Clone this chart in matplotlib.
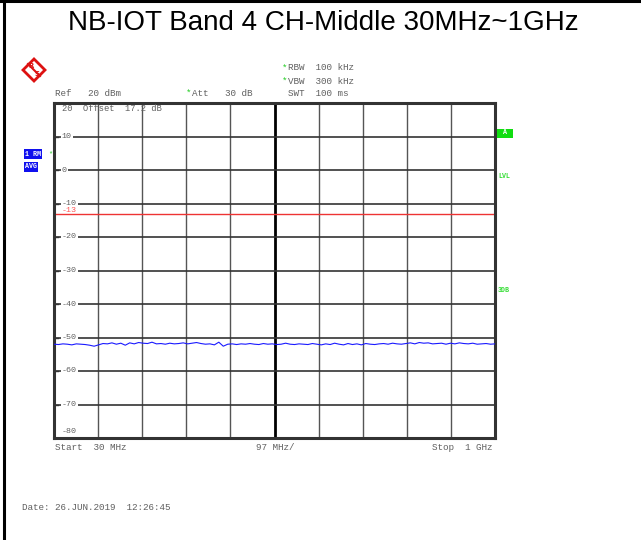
import numpy as np
import matplotlib
matplotlib.use("Agg")
import matplotlib.pyplot as plt
from matplotlib.patches import Polygon, Rectangle
from matplotlib.transforms import blended_transform_factory

# --- data ---
title = "NB-IOT Band 4 CH-Middle 30MHz~1GHz"
f_start, f_stop = 30, 1000          # MHz
ref_level, bottom_level = 20, -80   # dBm
y_labels = [10, 0, -10, -20, -30, -40, -50, -60, -70, -80]
limit_line = -13
level = [-52.0, -52.1, -51.9, -52.0, -52.2, -51.9, -52.0, -52.1, -52.3, -52.6,
         -52.2, -51.8, -51.9, -51.6, -52.0, -51.7, -52.3, -51.6, -51.9, -51.5,
         -51.7, -51.8, -51.4, -51.9, -51.8, -52.0, -51.7, -51.9, -51.8, -51.6,
         -51.9, -51.7, -51.5, -51.8, -52.0, -51.9, -52.2, -51.4, -52.6, -52.0,
         -51.9, -52.1, -51.9, -52.0, -51.8, -52.0, -52.1, -51.8, -52.0, -51.9,
         -52.1, -52.0, -51.7, -52.0, -52.1, -51.9, -52.0, -52.1, -51.8, -52.0,
         -52.2, -51.9, -52.1, -51.7, -52.0, -52.2, -51.8, -52.1, -51.9, -52.2,
         -51.8, -52.0, -52.1, -51.9, -51.8, -52.0, -51.7, -51.9, -52.0, -51.8,
         -51.6, -51.9, -51.5, -51.7, -51.6, -51.9, -51.8, -51.7, -52.0, -51.7,
         -51.9, -51.6, -51.8, -51.9, -51.7, -52.0, -51.9, -51.8, -52.0, -51.9]
freq = np.linspace(f_start, f_stop, len(level))

W, H = 641, 540
mono = "Liberation Mono"
gray = "#606060"


def px(x, y):
    return x / W, 1 - y / H


fig = plt.figure(figsize=(W / 100, H / 100), dpi=100)

# outer frame (top and left edges only)
fig.add_artist(plt.Line2D([0, 1], [0.999, 0.999], color="black", lw=2.2, transform=fig.transFigure))
fig.add_artist(plt.Line2D([4 / W, 4 / W], [0, 1], color="black", lw=2.2, transform=fig.transFigure))

fig.text(*px(323, 23), title, ha="center", va="center", fontsize=20,
         family="Liberation Sans", color="black")

# plot area
l, t, r, b = 54, 103, 495, 438
ax = fig.add_axes([l / W, 1 - b / H, (r - l) / W, (b - t) / H])
ax.set_xlim(f_start, f_stop)
ax.set_ylim(bottom_level, ref_level)

span = (f_stop - f_start) / 10
for i in range(1, 10):
    xv = f_start + i * span
    ax.axvline(xv, color="black" if i == 5 else "#555555", lw=2.0 if i == 5 else 1.0, zorder=1)
for v in y_labels[:-1]:
    ax.axhline(v, color="#333333", lw=1.2, zorder=1)

ax.set_xticks([])
ax.set_yticks([])
for s in ax.spines.values():
    s.set_linewidth(2.2)
    s.set_color("#333333")

tr = blended_transform_factory(ax.transAxes, ax.transData)
for v in y_labels:
    if v == bottom_level:
        ax.text(0.018, v + 2.0, str(v), transform=tr, ha="left", va="center",
                fontsize=6, family=mono, color=gray, zorder=3)
        continue
    ax.text(0.018, v, str(v), transform=tr, ha="left", va="center", fontsize=6,
            family=mono, color=gray, zorder=3,
            bbox=dict(boxstyle="square,pad=0.15", fc="white", ec="none"))
    ax.plot([0, 0.008], [v, v], transform=tr, color="#333333", lw=1.0, zorder=3)

ax.text(0.018, ref_level - 1.6, "20  Offset  17.2 dB", transform=tr, ha="left", va="center",
        fontsize=6.3, family=mono, color=gray, zorder=3)

ax.axhline(limit_line, color="#ee3333", lw=1.0, zorder=2)
ax.text(0.018, limit_line + 1.0, str(limit_line), transform=tr, ha="left", va="center",
        fontsize=6, family=mono, color="#ff5555", zorder=4)

ax.plot(freq, level, color="#1a1aff", lw=0.8, zorder=5)

# header texts
fs = 6.7
fig.text(*px(55, 93), "Ref   20 dBm", ha="left", va="center", fontsize=fs, family=mono, color=gray)
fig.text(*px(186, 93), "*", ha="left", va="center", fontsize=fs, family=mono, color="#22cc22")
fig.text(*px(192, 93), "Att   30 dB", ha="left", va="center", fontsize=fs, family=mono, color=gray)
fig.text(*px(282, 68), "*", ha="left", va="center", fontsize=fs, family=mono, color="#22cc22")
fig.text(*px(288, 68), "RBW  100 kHz", ha="left", va="center", fontsize=fs, family=mono, color=gray)
fig.text(*px(282, 81), "*", ha="left", va="center", fontsize=fs, family=mono, color="#22cc22")
fig.text(*px(288, 81), "VBW  300 kHz", ha="left", va="center", fontsize=fs, family=mono, color=gray)
fig.text(*px(288, 93), "SWT  100 ms", ha="left", va="center", fontsize=fs, family=mono, color=gray)

# footer texts
fig.text(*px(55, 447), "Start  30 MHz", ha="left", va="center", fontsize=fs, family=mono, color=gray)
fig.text(*px(275, 447), "97 MHz/", ha="center", va="center", fontsize=fs, family=mono, color=gray)
fig.text(*px(493, 447), "Stop  1 GHz", ha="right", va="center", fontsize=fs, family=mono, color=gray)
fig.text(*px(22, 508), "Date: 26.JUN.2019  12:26:45", ha="left", va="center", fontsize=fs,
         family=mono, color=gray)

# left trace labels
fig.text(*px(25, 154), "1 RM", ha="left", va="center", fontsize=4.8, family=mono, color="white",
         weight="bold", bbox=dict(boxstyle="square,pad=0.2", fc="#1010ee", ec="none"))
fig.text(*px(48, 154), "*", ha="left", va="center", fontsize=5, family=mono, color="#22cc22")
fig.text(*px(25, 167), "AVG", ha="left", va="center", fontsize=4.8, family=mono, color="white",
         weight="bold", bbox=dict(boxstyle="square,pad=0.2", fc="#1010ee", ec="none"))

# right labels
fig.add_artist(Rectangle(px(497, 138), 16 / W, 9 / H, transform=fig.transFigure,
                         fc="#11dd11", ec="none"))
fig.text(*px(505, 133), "A", ha="center", va="center", fontsize=4.8, family=mono, color="white",
         weight="bold")
fig.text(*px(498, 176), "LVL", ha="left", va="center", fontsize=4.8, family=mono,
         color="#33dd33", weight="bold")
fig.text(*px(498, 291), "3DB", ha="left", va="center", fontsize=4.8, family=mono,
         color="#33dd33", weight="bold")

# R&S logo (simple diamond)
cx, cy = 34, 70
d = 11
fig.add_artist(Polygon([px(cx - d, cy), px(cx, cy - d), px(cx + d, cy), px(cx, cy + d)],
                       closed=True, transform=fig.transFigure, fc="white", ec="#dd1111", lw=2.0))
fig.add_artist(plt.Line2D([px(cx - 6, cy - 6)[0], px(cx + 6, cy + 6)[0]],
                          [px(cx - 6, cy - 6)[1], px(cx + 6, cy + 6)[1]],
                          transform=fig.transFigure, color="#dd1111", lw=1.5))
fig.text(*px(cx - 3, cy - 4), "R", ha="center", va="center", fontsize=5, color="#dd1111", weight="bold")
fig.text(*px(cx + 3, cy + 4), "S", ha="center", va="center", fontsize=5, color="#dd1111", weight="bold")

fig.savefig("out.png", dpi=100)
